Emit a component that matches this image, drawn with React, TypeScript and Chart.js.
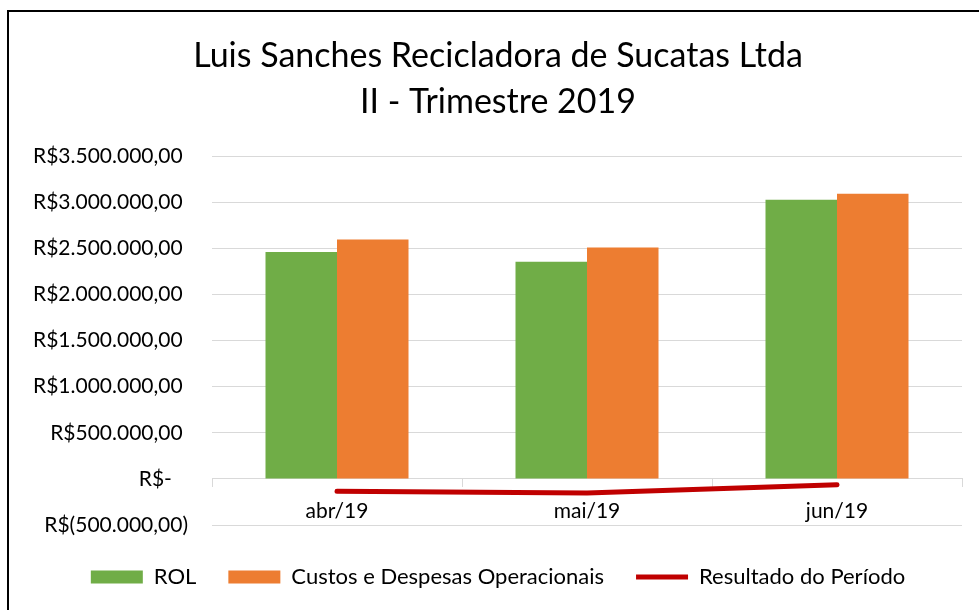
import React, { useEffect, useRef } from "react";
import { Chart, registerables } from "chart.js";

Chart.register(...registerables);

const titleLines = ["Luis Sanches Recicladora de Sucatas Ltda", "II - Trimestre 2019"];
const categories = ["abr/19", "mai/19", "jun/19"];
const rolValues = [2460000, 2355000, 3027000];
const custosValues = [2595000, 2508000, 3090000];
const resultadoValues = [-135000, -153000, -63000];
const seriesNames = ["ROL", "Custos e Despesas Operacionais", "Resultado do Período"];
const yMin = -500000;
const yMax = 3500000;
const yStep = 500000;

const FONT = "Lato";

function groupThousands(v: number): string {
  const s = Math.round(Math.abs(v)).toString();
  return s.replace(/\B(?=(\d{3})+(?!\d))/g, ".") + ",00";
}

function formatBRL(v: number): string {
  if (v === 0) return "R$-   ";
  if (v < 0) return "R$(" + groupThousands(v) + ")";
  return "R$" + groupThousands(v) + " ";
}

export default function App() {
  const ref = useRef<HTMLCanvasElement | null>(null);

  useEffect(() => {
    if (!ref.current) return;
    const padLeft = 34;
    const chart = new Chart(ref.current, {
      type: "bar",
      data: {
        labels: categories,
        datasets: [
          {
            type: "bar",
            label: seriesNames[0],
            data: rolValues,
            backgroundColor: "#70AD47",
            borderWidth: 0,
            pointStyle: "rect",
            categoryPercentage: 0.572,
            barPercentage: 1,
            order: 2,
          },
          {
            type: "bar",
            label: seriesNames[1],
            data: custosValues,
            backgroundColor: "#ED7D31",
            borderWidth: 0,
            pointStyle: "rect",
            categoryPercentage: 0.572,
            barPercentage: 1,
            order: 2,
          },
          {
            type: "line",
            label: seriesNames[2],
            data: resultadoValues,
            borderColor: "#C00000",
            backgroundColor: "#C00000",
            borderWidth: 5,
            borderCapStyle: "round",
            borderJoinStyle: "round",
            pointRadius: 0,
            pointHoverRadius: 0,
            pointStyle: "line",
            tension: 0,
            fill: false,
            order: 1,
          },
        ],
      },
      options: {
        responsive: false,
        animation: false,
        layout: { padding: { left: padLeft, right: 17, top: 0, bottom: 12 } },
        plugins: {
          title: {
            display: true,
            text: titleLines,
            color: "#000",
            font: { family: FONT, size: 34, weight: "normal", lineHeight: 46 / 34 },
            padding: { top: 33, bottom: 31 },
          },
          legend: {
            display: true,
            position: "bottom",
            title: {
              display: true,
              text: " ",
              font: { family: FONT, size: 9, lineHeight: 1 },
              padding: 0,
            },
            labels: {
              usePointStyle: true,
              pointStyleWidth: 52,
              boxHeight: 13,
              padding: 32,
              color: "#000",
              font: { family: FONT, size: 22 },
              sort: (a: any, b: any) => a.datasetIndex - b.datasetIndex,
            },
          },
          tooltip: { enabled: false },
        },
        scales: {
          x: {
            position: { y: 0 } as any,
            grid: {
              drawOnChartArea: false,
              drawTicks: true,
              tickLength: 8,
              color: "#d9d9d9",
            },
            border: { display: true, color: "#d9d9d9", width: 1 },
            ticks: {
              color: "#000",
              padding: 12,
              font: { family: FONT, size: 21 },
            },
          },
          y: {
            min: yMin,
            max: yMax,
            grid: { color: "#d9d9d9", drawTicks: false, lineWidth: 1 },
            border: { display: false },
            afterFit: (scale: any) => {
              scale.width = 212 - padLeft;
            },
            ticks: {
              stepSize: yStep,
              padding: 24,
              color: "#000",
              font: { family: FONT, size: 21 },
              callback: (v: any) => formatBRL(Number(v)),
            },
          },
        },
      },
    });
    return () => chart.destroy();
  }, []);

  return (
    <div
      style={{
        position: "fixed",
        left: 0,
        top: 0,
        width: 979,
        height: 610,
        background: "#fff",
        overflow: "hidden",
      }}
    >
      <canvas ref={ref} width={979} height={610} style={{ position: "absolute", left: 0, top: 0 }} />
      <div
        style={{
          position: "absolute",
          left: 7,
          top: 10,
          width: 1000,
          height: 700,
          borderLeft: "2px solid #000",
          borderTop: "2px solid #000",
          pointerEvents: "none",
        }}
      />
    </div>
  );
}
